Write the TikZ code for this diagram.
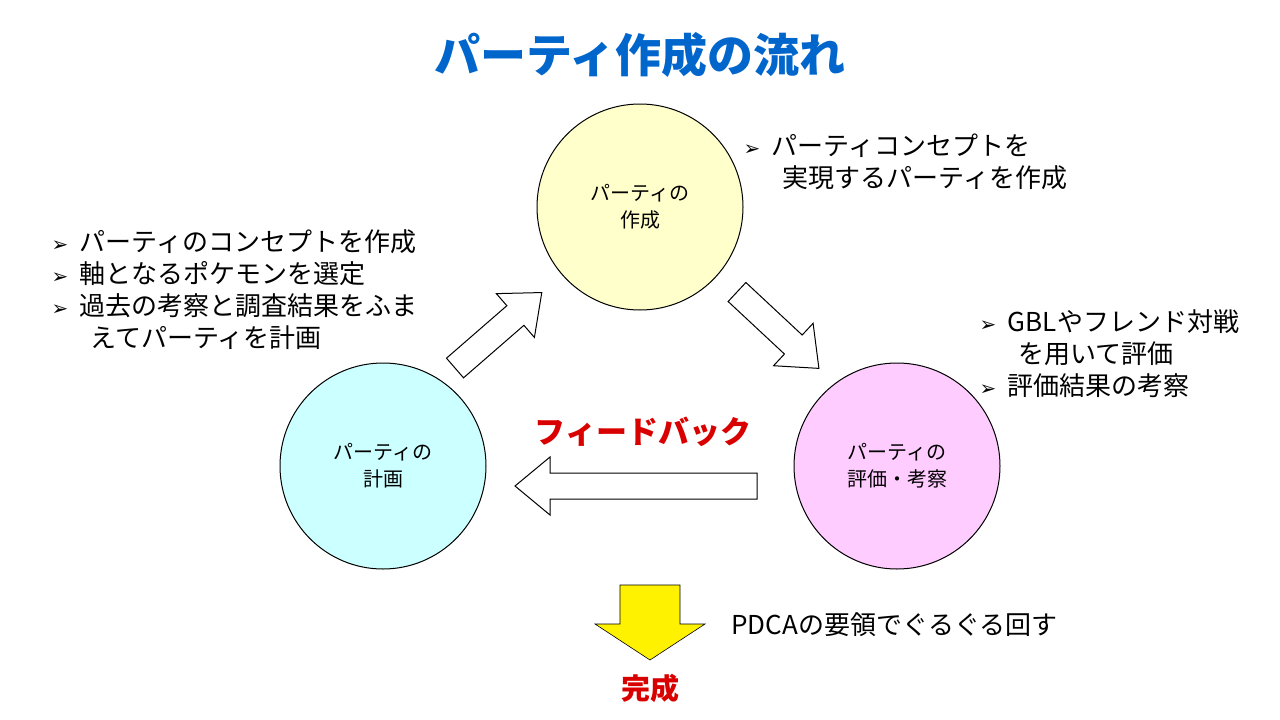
\documentclass[tikz,border=0pt]{standalone}
\usepackage{fontspec}
\setmainfont{Noto Sans CJK JP}
\newfontfamily\bul{DejaVu Sans}
\newcommand{\bl}{{\bul\fontsize{20}{20}\selectfont ➢}\ \ }
\begin{document}
\begin{tikzpicture}[x=1pt,y=-1pt,
 circ/.style={circle,draw,line width=1pt,minimum size=206pt,align=center,font=\fontsize{20}{27}\selectfont},
 txt/.style={anchor=north west,align=left,font=\fontsize{26}{32}\selectfont},
 blk/.style={draw,line width=1pt,fill=white}]
\useasboundingbox (0,0) rectangle (1280,720);
\definecolor{cy}{HTML}{FFFFCC}\definecolor{cc}{HTML}{CCFFFF}\definecolor{cp}{HTML}{FFCCFF}
\node[font=\fontsize{46}{48}\selectfont\bfseries,text=blue!50!cyan!80!black] (t) at (640,55) {パーティ作成の流れ};
\node[circ,fill=cy] (a) at (640,207) {パーティの\\作成};
\node[circ,fill=cc] (b) at (383,466) {パーティの\\計画};
\node[circ,fill=cp] (c) at (897,466) {パーティの\\評価・考察};
\def\blkarrow#1#2#3{\begin{scope}[shift={#1},rotate=#2]
 \draw[blk] (0,-13)--(#3-35,-13)--(#3-35,-29)--(#3,0)--(#3-35,29)--(#3-35,13)--(0,13)--cycle;\end{scope}}
\blkarrow{(455,368)}{41}{115}
\blkarrow{(737,292)}{-43}{112}
\blkarrow{(757,486)}{180}{242}
\draw[line width=0.6pt,fill=yellow] (620,585)--(680,585)--(680,624)--(705,624)--(650,660)--(595,624)--(620,624)--cycle;
\node[font=\fontsize{31}{34}\selectfont\bfseries,text=red!85!black] (f) at (643,432) {フィードバック};
\node[font=\fontsize{29}{32}\selectfont\bfseries,text=red!85!black] (k) at (650,688) {完成};
\node[txt] (ta) at (740,130) {\bl パーティコンセプトを\\\hspace{39pt}実現するパーティを作成};
\node[txt] (tb) at (48,226) {\bl パーティのコンセプトを作成\\\bl 軸となるポケモンを選定\\\bl 過去の考察と調査結果をふま\\\hspace{39pt}えてパーティを計画};
\node[txt] (tc) at (976,306) {\bl GBLやフレンド対戦\\\hspace{39pt}を用いて評価\\\bl 評価結果の考察};
\node[anchor=west,font=\fontsize{26}{30}\selectfont] (p) at (728,625) {PDCAの要領でぐるぐる回す};
\end{tikzpicture}
\end{document}
